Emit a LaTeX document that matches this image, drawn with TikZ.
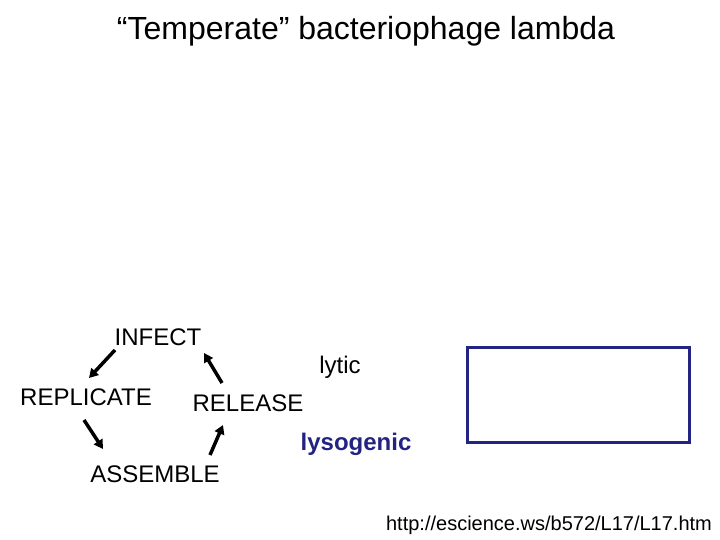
\documentclass[tikz,border=0pt]{standalone}
\usepackage{fontspec}
\setmainfont{Liberation Sans}
\usetikzlibrary{arrows.meta}
\definecolor{navy}{RGB}{35,35,130}
\begin{document}
\begin{tikzpicture}[x=1pt,y=-1pt,
  lbl/.style={font=\fontsize{24}{26}\selectfont,inner sep=0},
  arr/.style={line width=3.5pt,-{Triangle[length=9pt,width=10pt]}}]
\useasboundingbox (0,0) rectangle (720,540);
\node[font=\fontsize{32}{34}\selectfont,inner sep=0] (title) at (366,31) {“Temperate” bacteriophage lambda};
\node[lbl] (infect) at (158,337) {INFECT};
\node[lbl] (replicate) at (86,397) {REPLICATE};
\node[lbl] (release) at (248,403) {RELEASE};
\node[lbl] (assemble) at (155,474) {ASSEMBLE};
\node[lbl] (lytic) at (340,367) {lytic};
\node[lbl,font=\bfseries\fontsize{24}{26}\selectfont,text=navy] (lyso) at (356,444) {lysogenic};
\node[font=\fontsize{20}{22}\selectfont,inner sep=0] (url) at (549,525) {http://escience.ws/b572/L17/L17.htm};
\node[draw=navy,line width=3pt,minimum width=222pt,minimum height=95pt,inner sep=0] (box) at (578.5,395) {};
\coordinate (a1) at (115,350); \coordinate (b1) at (89,378);
\coordinate (a2) at (222,383); \coordinate (b2) at (204,353);
\coordinate (a3) at (84,420); \coordinate (b3) at (103,449);
\coordinate (a4) at (210,455); \coordinate (b4) at (223,425);
\draw[arr] (a1) -- (b1);
\draw[arr] (a2) -- (b2);
\draw[arr] (a3) -- (b3);
\draw[arr] (a4) -- (b4);
\end{tikzpicture}
\end{document}
